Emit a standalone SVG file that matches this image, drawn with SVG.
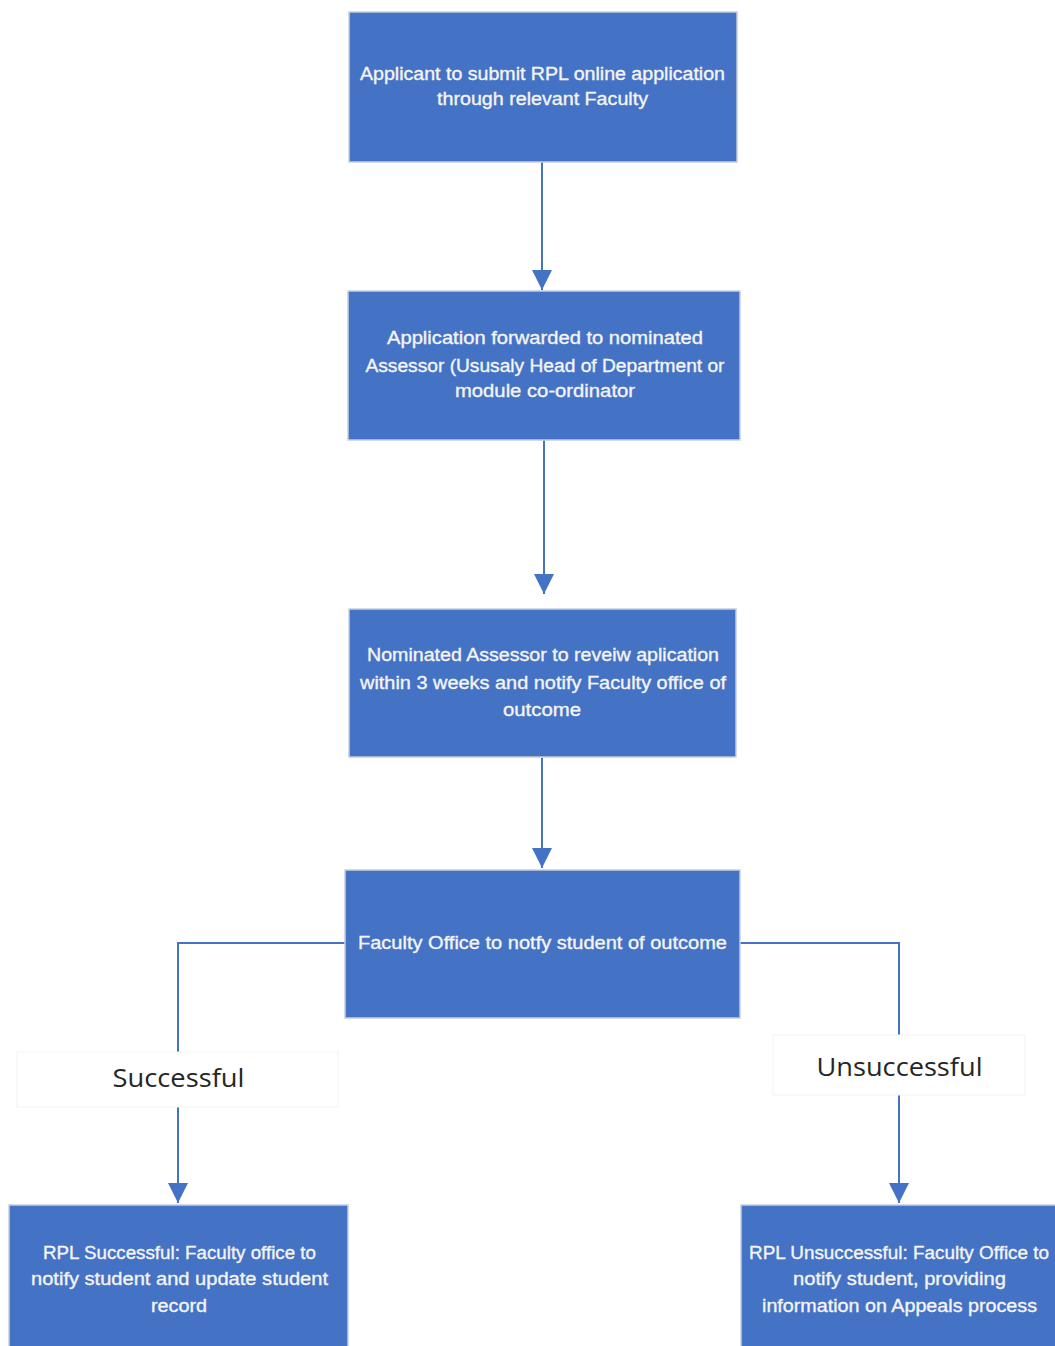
<svg xmlns="http://www.w3.org/2000/svg" width="1055" height="1346" viewBox="0 0 1055 1346">
<style>
.box{fill:#4472C4;stroke:#c5cedd;stroke-width:1.5}
.bt{font-family:"Liberation Sans",Arial,sans-serif;font-size:17.5px;fill:#f4f4f4;stroke:#f4f4f4;stroke-width:0.35;text-anchor:middle}
.lbl{fill:#ffffff;stroke:#f3f3f3;stroke-width:1}
.lt{font-family:"Open Sans","Liberation Sans",sans-serif;font-size:26px;fill:#262626;text-anchor:middle}
.con{fill:none;stroke:#4472C4;stroke-width:2}
</style>
<defs>
<marker id="arr" markerWidth="20" markerHeight="20" refX="20" refY="10" orient="auto" markerUnits="userSpaceOnUse">
<path d="M0,0 L20,10 L0,20 Z" fill="#4472C4"/>
</marker>
</defs>
<rect width="1055" height="1346" fill="#ffffff"/>
<g id="connectors">
<line class="con" x1="542" y1="162" x2="542" y2="290" marker-end="url(#arr)"/>
<line class="con" x1="544" y1="440" x2="544" y2="594" marker-end="url(#arr)"/>
<line class="con" x1="542" y1="758" x2="542" y2="868" marker-end="url(#arr)"/>
<polyline class="con" points="345,943 178,943 178,1052"/>
<line class="con" x1="178" y1="1107" x2="178" y2="1203" marker-end="url(#arr)"/>
<polyline class="con" points="740,943 899,943 899,1035"/>
<line class="con" x1="899" y1="1095" x2="899" y2="1203" marker-end="url(#arr)"/>
</g>
<g id="n1">
<rect class="box" x="349" y="12" width="388" height="150"/>
<text class="bt" x="542.5" y="80" textLength="365" lengthAdjust="spacingAndGlyphs">Applicant to submit RPL online application</text>
<text class="bt" x="542.5" y="105" textLength="211" lengthAdjust="spacingAndGlyphs">through relevant Faculty</text>
</g>
<g id="n2">
<rect class="box" x="348" y="291" width="392" height="149"/>
<text class="bt" x="545" y="344" textLength="316" lengthAdjust="spacingAndGlyphs">Application forwarded to nominated</text>
<text class="bt" x="545" y="372" textLength="359" lengthAdjust="spacingAndGlyphs">Assessor (Ususaly Head of Department or</text>
<text class="bt" x="545" y="397" textLength="180" lengthAdjust="spacingAndGlyphs">module co-ordinator</text>
</g>
<g id="n3">
<rect class="box" x="349" y="609" width="387" height="148"/>
<text class="bt" x="543" y="661" textLength="352" lengthAdjust="spacingAndGlyphs">Nominated Assessor to reveiw aplication</text>
<text class="bt" x="543" y="689" textLength="366" lengthAdjust="spacingAndGlyphs">within 3 weeks and notify Faculty office of</text>
<text class="bt" x="542" y="716" textLength="78" lengthAdjust="spacingAndGlyphs">outcome</text>
</g>
<g id="n4">
<rect class="box" x="345" y="870" width="395" height="148"/>
<text class="bt" x="542.5" y="949" textLength="369" lengthAdjust="spacingAndGlyphs">Faculty Office to notfy student of outcome</text>
</g>
<g id="label-successful">
<rect class="lbl" x="17" y="1052" width="321" height="55"/>
<text class="lt" x="178.5" y="1087" textLength="132" lengthAdjust="spacingAndGlyphs">Successful</text>
</g>
<g id="label-unsuccessful">
<rect class="lbl" x="773" y="1035" width="252" height="60"/>
<text class="lt" x="899.5" y="1076" textLength="166" lengthAdjust="spacingAndGlyphs">Unsuccessful</text>
</g>
<g id="n5">
<rect class="box" x="9" y="1205" width="339" height="150"/>
<text class="bt" x="179.5" y="1259" textLength="273" lengthAdjust="spacingAndGlyphs">RPL Successful: Faculty office to</text>
<text class="bt" x="179.5" y="1285" textLength="297" lengthAdjust="spacingAndGlyphs">notify student and update student</text>
<text class="bt" x="179" y="1312" textLength="56" lengthAdjust="spacingAndGlyphs">record</text>
</g>
<g id="n6">
<rect class="box" x="741" y="1205" width="330" height="150"/>
<text class="bt" x="899" y="1259" textLength="300" lengthAdjust="spacingAndGlyphs">RPL Unsuccessful: Faculty Office to</text>
<text class="bt" x="899.5" y="1285" textLength="213" lengthAdjust="spacingAndGlyphs">notify student, providing</text>
<text class="bt" x="899.5" y="1312" textLength="275" lengthAdjust="spacingAndGlyphs">information on Appeals process</text>
</g>
</svg>
